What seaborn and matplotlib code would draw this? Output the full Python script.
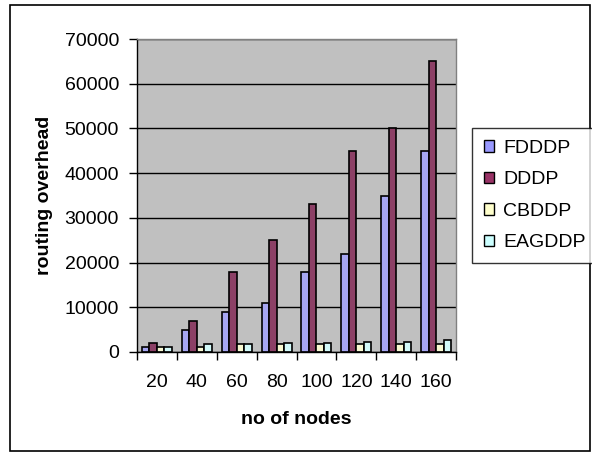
import matplotlib
matplotlib.use("Agg")
import matplotlib.pyplot as plt
import seaborn as sns
import pandas as pd
from matplotlib.patches import Patch, Rectangle

nodes = ["20", "40", "60", "80", "100", "120", "140", "160"]
protocols = ["FDDDP", "DDDP", "CBDDP", "EAGDDP"]
fdddp = [1200, 5000, 9000, 11000, 17800, 22000, 35000, 45000]
dddp = [2000, 7000, 17800, 25000, 33000, 45000, 50000, 65000]
cbddp = [1200, 1200, 1700, 1700, 1700, 1700, 1700, 1700]
eagddp = [1200, 1700, 1700, 2000, 2000, 2300, 2300, 2700]
colors = ["#9999FF", "#993366", "#FFFFCC", "#CCFFFF"]

rows = []
for name, vals in zip(protocols, [fdddp, dddp, cbddp, eagddp]):
    for n, v in zip(nodes, vals):
        rows.append({"nodes": n, "value": v, "protocol": name})
df = pd.DataFrame(rows)

sns.set_theme(style="white")
plt.rcParams['font.family'] = ['Liberation Sans', 'DejaVu Sans']
plt.rcParams['text.color'] = 'black'
plt.rcParams['axes.labelcolor'] = 'black'
plt.rcParams['xtick.color'] = 'black'
plt.rcParams['ytick.color'] = 'black'

FS = 14

fig = plt.figure(figsize=(5.92, 4.53), dpi=100)
ax = fig.add_axes([137/592, 1-352/453, (456-137)/592, (352-39)/453])
ax.set_facecolor("#C0C0C0")
ax.set_axisbelow(True)

sns.barplot(data=df, x="nodes", y="value", hue="protocol", order=nodes,
            hue_order=protocols, palette=colors, edgecolor="black",
            linewidth=1.2, width=0.75, ax=ax, legend=False)

ax.set_xlim(-0.5, 7.5)
ax.set_ylim(0, 70000)
ax.set_yticks(range(0, 70001, 10000))
ax.set_yticklabels([str(v) for v in range(0, 70001, 10000)], fontsize=FS)
ax.yaxis.grid(True, color="black", linewidth=1)
ax.xaxis.grid(False)
ax.set_xticks(range(len(nodes)))
ax.set_xticklabels(nodes, fontsize=FS)
ax.set_xticks([i - 0.5 for i in range(len(nodes) + 1)], minor=True)
ax.tick_params(axis="x", which="major", length=0, pad=16)
ax.tick_params(axis="x", which="minor", length=6, width=1, color="black", direction="out", bottom=True)
ax.tick_params(axis="y", length=6, width=1, color="black", direction="out", left=True, pad=7)
for s in ["left", "bottom"]:
    ax.spines[s].set_color("black")
    ax.spines[s].set_linewidth(1)
for s in ["top", "right"]:
    ax.spines[s].set_color("#808080")
    ax.spines[s].set_linewidth(1)

ax.set_xlabel("no of nodes", fontsize=FS, fontweight="bold", labelpad=14)
ax.set_ylabel("routing overhead", fontsize=FS, fontweight="bold", labelpad=8)

handles = [Patch(facecolor=c, edgecolor="black", linewidth=1) for c in colors]
leg = fig.legend(handles, protocols, loc="upper left",
                 bbox_to_anchor=(472/592, 1-128/453), frameon=True,
                 fancybox=False, edgecolor="black", fontsize=FS,
                 handlelength=0.55, handleheight=0.55, handletextpad=0.45,
                 labelspacing=0.75, borderpad=0.6, borderaxespad=0)
leg.get_frame().set_linewidth(1)

fig.patches.append(Rectangle((10/592, 1-451/453), 580/592, 446/453,
                             transform=fig.transFigure, fill=False,
                             edgecolor="black", linewidth=1.2))

fig.savefig("out.png", dpi=100)
